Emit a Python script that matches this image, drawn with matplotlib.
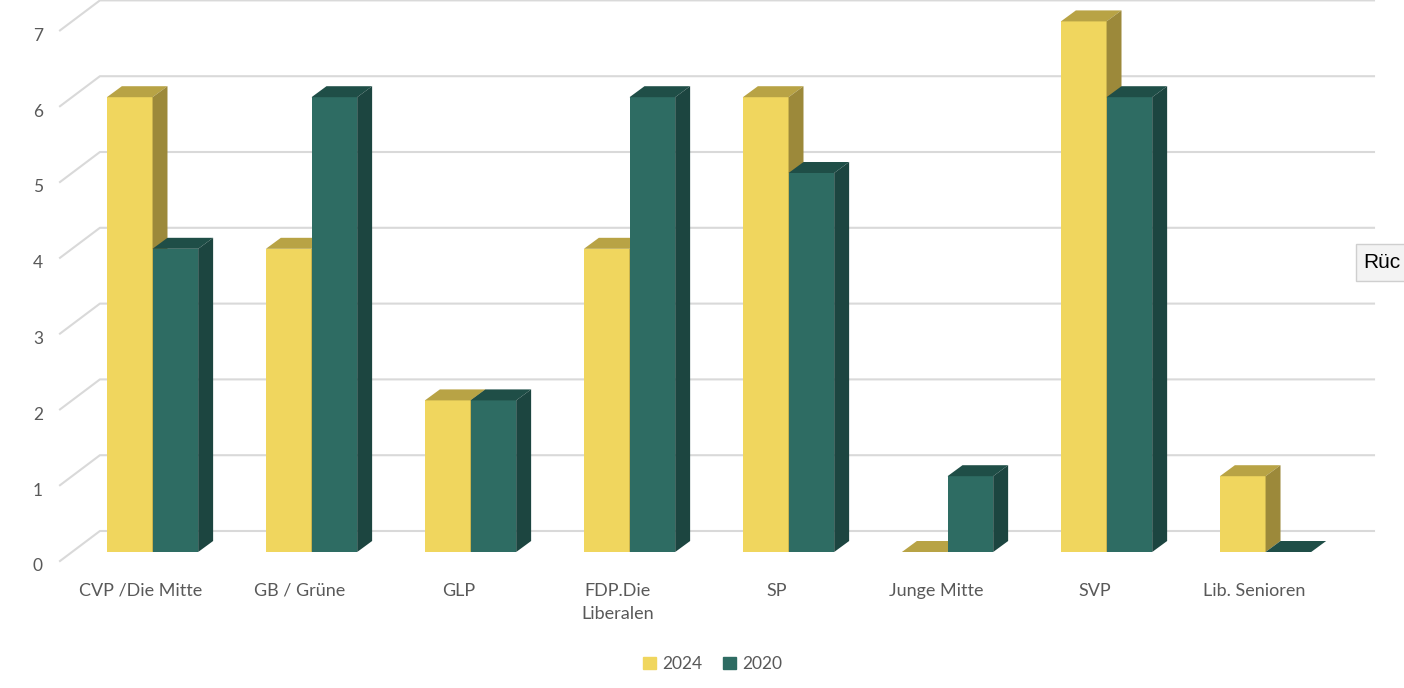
import matplotlib.pyplot as plt
from matplotlib.patches import Polygon, Patch, Rectangle

# Sitzverteilung nach Partei
parties = ["CVP /Die Mitte", "GB / Grüne", "GLP", "FDP.Die\nLiberalen", "SP",
           "Junge Mitte", "SVP", "Lib. Senioren"]
seats_2024 = [6, 4, 2, 4, 6, 0, 7, 1]
seats_2020 = [4, 6, 2, 6, 5, 1, 6, 0]
series_labels = ["2024", "2020"]
y_ticks = [0, 1, 2, 3, 4, 5, 6, 7]

yellow = {"front": "#F0D65E", "top": "#B8A345", "side": "#9C893A"}
green = {"front": "#2E6C63", "top": "#1F4E47", "side": "#1C4540"}
text_col = "#595959"
grid_col = "#d9d9d9"

plt.rcParams['font.family'] = ['Lato', 'DejaVu Sans']

fig = plt.figure(figsize=(14.04, 6.88), dpi=100)
ax = fig.add_axes([60 / 1404, 136 / 688, 1314 / 1404, 530.6 / 688])
x_min, x_max = -0.509, 7.755
ax.set_xlim(x_min, x_max)
ax.set_ylim(0, 7)
for s in ax.spines.values():
    s.set_visible(False)
ax.set_yticks([])

# 3D look: depth offset of the bars and of the back wall
dx, dy = 0.094, 0.145
floor_front, floor_back = -0.119, 0.277
wall_x = -0.258

# back wall gridlines with the diagonal on the side wall
for v in y_ticks:
    ax.plot([x_min, wall_x, x_max], [v + floor_front, v + floor_back, v + floor_back],
            color=grid_col, lw=1.5, clip_on=False, zorder=1)
    ax.text(x_min - 22 / 159, v + floor_front - 0.07, str(v), ha='center', va='center',
            fontsize=12.5, color=text_col, clip_on=False)

w = 0.287
offsets = [-0.214, 0.073]
for i in range(len(parties)):
    for vals, off, col in [(seats_2024, offsets[0], yellow), (seats_2020, offsets[1], green)]:
        v = vals[i]
        x0 = i + off
        ax.bar(x0, v, w, align='edge', color=col["front"], zorder=3, clip_on=False)
        top = Polygon([(x0, v), (x0 + dx, v + dy), (x0 + w + dx, v + dy), (x0 + w, v)],
                      closed=True, facecolor=col["top"], edgecolor='none', zorder=3,
                      clip_on=False)
        ax.add_patch(top)
        if v > 0:
            side = Polygon([(x0 + w, 0), (x0 + w + dx, dy), (x0 + w + dx, v + dy), (x0 + w, v)],
                           closed=True, facecolor=col["side"], edgecolor='none', zorder=3,
                           clip_on=False)
            ax.add_patch(side)

ax.set_xticks(range(len(parties)), parties)
ax.tick_params(axis='x', length=0, pad=22, labelsize=13, labelcolor=text_col)
for lab in ax.get_xticklabels():
    lab.set_linespacing(1.55)

handles = [Patch(color=yellow["front"]), Patch(color=green["front"])]
fig.legend(handles, series_labels, loc='center', bbox_to_anchor=(713 / 1404, 1 - 664 / 688),
           ncol=2, frameon=False, handlelength=0.7, handleheight=0.7, handletextpad=0.4,
           columnspacing=1.2, fontsize=12.5, labelcolor=text_col)

# Feedback-Button am rechten Rand (ragt über den Rand hinaus)
fig.patches.append(Rectangle((1356 / 1404, 1 - 281 / 688), 60 / 1404, 37 / 688,
                             transform=fig.transFigure, facecolor='#f3f3f3',
                             edgecolor='#cfcfcf', lw=1))
fig.text(1363 / 1404, 1 - 263 / 688, "Rüc", fontsize=15, color='black', va='center',
         ha='left', family='Liberation Sans')

fig.savefig('out.png', dpi=100)
